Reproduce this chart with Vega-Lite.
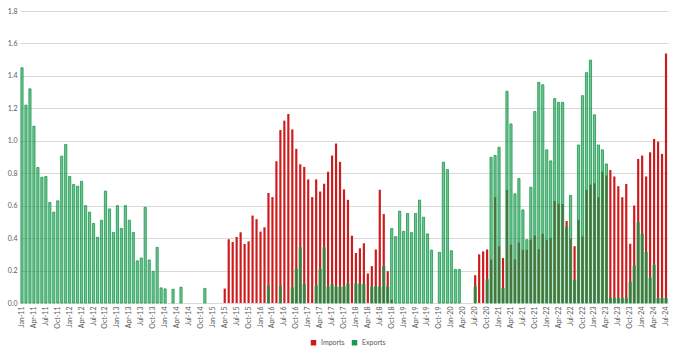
{
  "$schema": "https://vega.github.io/schema/vega-lite/v6.json",
  "autosize": "none",
  "width": 648,
  "height": 292,
  "padding": {"left": 20, "top": 11, "right": 9, "bottom": 54},
  "background": "white",
  "config": {
    "view": {"stroke": null},
    "font": "Lato",
    "axisY": {"labelFontSize": 7, "labelColor": "#595959", "labelPadding": 3, "labelOverlap": false, "labelFlush": false, "ticks": false, "domain": false, "grid": true, "gridColor": "#d9d9d9", "format": ".1f", "values": [0, 0.2, 0.4, 0.6, 0.8, 1.0, 1.2, 1.4, 1.6, 1.8]}
  },
  "data": {"values": [
    {"m":"2011-01-01","imp":null,"exp":1.45},{"m":"2011-02-01","imp":null,"exp":1.22},{"m":"2011-03-01","imp":null,"exp":1.32},{"m":"2011-04-01","imp":null,"exp":1.09},{"m":"2011-05-01","imp":null,"exp":0.835},{"m":"2011-06-01","imp":null,"exp":0.775},{"m":"2011-07-01","imp":null,"exp":0.78},{"m":"2011-08-01","imp":null,"exp":0.62},{"m":"2011-09-01","imp":null,"exp":0.56},{"m":"2011-10-01","imp":null,"exp":0.63},{"m":"2011-11-01","imp":null,"exp":0.905},{"m":"2011-12-01","imp":null,"exp":0.977},
    {"m":"2012-01-01","imp":null,"exp":0.78},{"m":"2012-02-01","imp":null,"exp":0.73},{"m":"2012-03-01","imp":null,"exp":0.72},{"m":"2012-04-01","imp":null,"exp":0.75},{"m":"2012-05-01","imp":null,"exp":0.6},{"m":"2012-06-01","imp":null,"exp":0.56},{"m":"2012-07-01","imp":null,"exp":0.49},{"m":"2012-08-01","imp":null,"exp":0.405},{"m":"2012-09-01","imp":null,"exp":0.51},{"m":"2012-10-01","imp":null,"exp":0.69},{"m":"2012-11-01","imp":null,"exp":0.58},{"m":"2012-12-01","imp":null,"exp":0.435},
    {"m":"2013-01-01","imp":null,"exp":0.6},{"m":"2013-02-01","imp":null,"exp":0.46},{"m":"2013-03-01","imp":null,"exp":0.6},{"m":"2013-04-01","imp":null,"exp":0.51},{"m":"2013-05-01","imp":null,"exp":0.435},{"m":"2013-06-01","imp":null,"exp":0.26},{"m":"2013-07-01","imp":null,"exp":0.277},{"m":"2013-08-01","imp":null,"exp":0.59},{"m":"2013-09-01","imp":null,"exp":0.265},{"m":"2013-10-01","imp":null,"exp":0.195},{"m":"2013-11-01","imp":null,"exp":0.343},{"m":"2013-12-01","imp":null,"exp":0.093},
    {"m":"2014-01-01","imp":null,"exp":0.087},{"m":"2014-02-01","imp":null,"exp":null},{"m":"2014-03-01","imp":null,"exp":0.085},{"m":"2014-04-01","imp":null,"exp":null},{"m":"2014-05-01","imp":null,"exp":0.097},{"m":"2014-06-01","imp":null,"exp":null},{"m":"2014-07-01","imp":null,"exp":null},{"m":"2014-08-01","imp":null,"exp":null},{"m":"2014-09-01","imp":null,"exp":null},{"m":"2014-10-01","imp":null,"exp":null},{"m":"2014-11-01","imp":null,"exp":0.09},{"m":"2014-12-01","imp":null,"exp":null},
    {"m":"2015-01-01","imp":null,"exp":null},{"m":"2015-02-01","imp":null,"exp":null},{"m":"2015-03-01","imp":null,"exp":null},{"m":"2015-04-01","imp":0.089,"exp":null},{"m":"2015-05-01","imp":0.393,"exp":null},{"m":"2015-06-01","imp":0.376,"exp":null},{"m":"2015-07-01","imp":0.407,"exp":null},{"m":"2015-08-01","imp":0.436,"exp":null},{"m":"2015-09-01","imp":0.364,"exp":null},{"m":"2015-10-01","imp":0.38,"exp":null},{"m":"2015-11-01","imp":0.539,"exp":null},{"m":"2015-12-01","imp":0.517,"exp":null},
    {"m":"2016-01-01","imp":0.44,"exp":null},{"m":"2016-02-01","imp":0.467,"exp":null},{"m":"2016-03-01","imp":0.678,"exp":0.107},{"m":"2016-04-01","imp":0.653,"exp":null},{"m":"2016-05-01","imp":0.874,"exp":null},{"m":"2016-06-01","imp":1.066,"exp":0.103},{"m":"2016-07-01","imp":1.124,"exp":null},{"m":"2016-08-01","imp":1.165,"exp":null},{"m":"2016-09-01","imp":1.07,"exp":0.095},{"m":"2016-10-01","imp":0.95,"exp":0.21},{"m":"2016-11-01","imp":0.855,"exp":0.343},{"m":"2016-12-01","imp":0.839,"exp":0.116},
    {"m":"2017-01-01","imp":0.762,"exp":null},{"m":"2017-02-01","imp":0.653,"exp":null},{"m":"2017-03-01","imp":0.762,"exp":0.107},{"m":"2017-04-01","imp":0.687,"exp":0.21},{"m":"2017-05-01","imp":0.735,"exp":0.343},{"m":"2017-06-01","imp":0.809,"exp":0.1},{"m":"2017-07-01","imp":0.909,"exp":0.116},{"m":"2017-08-01","imp":0.983,"exp":0.1},{"m":"2017-09-01","imp":0.87,"exp":0.099},{"m":"2017-10-01","imp":0.7,"exp":0.103},{"m":"2017-11-01","imp":0.636,"exp":0.12},{"m":"2017-12-01","imp":0.415,"exp":null},
    {"m":"2018-01-01","imp":0.308,"exp":0.12},{"m":"2018-02-01","imp":0.337,"exp":0.12},{"m":"2018-03-01","imp":0.368,"exp":0.116},{"m":"2018-04-01","imp":0.182,"exp":null},{"m":"2018-05-01","imp":0.227,"exp":0.1},{"m":"2018-06-01","imp":0.33,"exp":0.1},{"m":"2018-07-01","imp":0.698,"exp":0.1},{"m":"2018-08-01","imp":0.548,"exp":0.227},{"m":"2018-09-01","imp":0.196,"exp":0.1},{"m":"2018-10-01","imp":0.02,"exp":0.459},{"m":"2018-11-01","imp":null,"exp":0.409},{"m":"2018-12-01","imp":null,"exp":0.566},
    {"m":"2019-01-01","imp":null,"exp":0.442},{"m":"2019-02-01","imp":null,"exp":0.552},{"m":"2019-03-01","imp":null,"exp":0.434},{"m":"2019-04-01","imp":null,"exp":0.552},{"m":"2019-05-01","imp":null,"exp":0.634},{"m":"2019-06-01","imp":null,"exp":0.529},{"m":"2019-07-01","imp":null,"exp":0.426},{"m":"2019-08-01","imp":null,"exp":0.326},{"m":"2019-09-01","imp":null,"exp":null},{"m":"2019-10-01","imp":null,"exp":0.312},{"m":"2019-11-01","imp":null,"exp":0.868},{"m":"2019-12-01","imp":null,"exp":0.822},
    {"m":"2020-01-01","imp":null,"exp":0.322},{"m":"2020-02-01","imp":null,"exp":0.207},{"m":"2020-03-01","imp":null,"exp":0.207},{"m":"2020-04-01","imp":null,"exp":null},{"m":"2020-05-01","imp":null,"exp":null},{"m":"2020-06-01","imp":null,"exp":null},{"m":"2020-07-01","imp":0.171,"exp":0.1},{"m":"2020-08-01","imp":0.3,"exp":null},{"m":"2020-09-01","imp":0.318,"exp":null},{"m":"2020-10-01","imp":0.33,"exp":0.145},{"m":"2020-11-01","imp":0.267,"exp":0.898},{"m":"2020-12-01","imp":0.652,"exp":0.909},
    {"m":"2021-01-01","imp":0.35,"exp":0.96},{"m":"2021-02-01","imp":0.277,"exp":0.092},{"m":"2021-03-01","imp":0.697,"exp":1.305},{"m":"2021-04-01","imp":0.36,"exp":1.104},{"m":"2021-05-01","imp":0.269,"exp":0.673},{"m":"2021-06-01","imp":0.373,"exp":0.767},{"m":"2021-07-01","imp":0.328,"exp":0.574},{"m":"2021-08-01","imp":0.328,"exp":0.39},{"m":"2021-09-01","imp":0.39,"exp":0.714},{"m":"2021-10-01","imp":0.416,"exp":1.18},{"m":"2021-11-01","imp":0.332,"exp":1.36},{"m":"2021-12-01","imp":0.427,"exp":1.345},
    {"m":"2022-01-01","imp":0.39,"exp":0.944},{"m":"2022-02-01","imp":0.4,"exp":0.876},{"m":"2022-03-01","imp":0.628,"exp":1.26},{"m":"2022-04-01","imp":0.611,"exp":1.237},{"m":"2022-05-01","imp":0.611,"exp":1.237},{"m":"2022-06-01","imp":0.505,"exp":0.468},{"m":"2022-07-01","imp":0.396,"exp":0.663},{"m":"2022-08-01","imp":0.35,"exp":0.14},{"m":"2022-09-01","imp":0.513,"exp":0.974},{"m":"2022-10-01","imp":0.41,"exp":1.278},{"m":"2022-11-01","imp":0.697,"exp":1.42},{"m":"2022-12-01","imp":0.73,"exp":1.497},
    {"m":"2023-01-01","imp":0.738,"exp":1.16},{"m":"2023-02-01","imp":0.652,"exp":0.974},{"m":"2023-03-01","imp":0.81,"exp":0.944},{"m":"2023-04-01","imp":0.786,"exp":0.857},{"m":"2023-05-01","imp":0.82,"exp":0.03},{"m":"2023-06-01","imp":0.78,"exp":0.03},{"m":"2023-07-01","imp":0.72,"exp":0.03},{"m":"2023-08-01","imp":0.652,"exp":0.03},{"m":"2023-09-01","imp":0.734,"exp":0.03},{"m":"2023-10-01","imp":0.365,"exp":0.13},{"m":"2023-11-01","imp":0.601,"exp":0.23},{"m":"2023-12-01","imp":0.888,"exp":0.498},
    {"m":"2024-01-01","imp":0.909,"exp":0.427},{"m":"2024-02-01","imp":0.78,"exp":0.314},{"m":"2024-03-01","imp":0.929,"exp":0.156},{"m":"2024-04-01","imp":1.011,"exp":0.236},{"m":"2024-05-01","imp":0.995,"exp":0.03},{"m":"2024-06-01","imp":0.919,"exp":0.03},{"m":"2024-07-01","imp":1.538,"exp":0.03}
  ]},
  "encoding": {
    "x": {
      "field": "m", "type": "ordinal", "timeUnit": "utcyearmonth", "title": null,
      "scale": {"paddingInner": 0.45, "paddingOuter": 0.225},
      "axis": {
        "labelAngle": -90, "labelFontSize": 7, "labelColor": "#595959", "labelPadding": 3,
        "ticks": false, "domain": true, "domainColor": "#d9d9d9", "labelOverlap": false,
        "labelExpr": "utcmonth(datum.value) % 3 == 0 ? utcFormat(datum.value, '%b-%y') : ''"
      }
    }
  },
  "layer": [
    {
      "mark": {"type": "tick", "opacity": 0},
      "encoding": {}
    },
    {
      "mark": {"type": "bar", "fill": "#cf1b1b"},
      "encoding": {
        "y": {
          "field": "imp", "type": "quantitative", "title": null,
          "scale": {"domain": [0, 1.8], "nice": false}
        },
        "color": {
          "datum": "Imports",
          "scale": {"domain": ["Imports", "Exports"], "range": ["#cf1b1b", "#18994c"]},
          "legend": {
            "title": null, "orient": "none", "legendX": 290, "legendY": 328,
            "direction": "horizontal", "symbolType": "square", "symbolSize": 30,
            "labelFontSize": 7, "labelColor": "#595959", "columnPadding": 6, "symbolStrokeWidth": 0
          }
        }
      }
    },
    {
      "mark": {"type": "bar", "fillOpacity": 0.6, "stroke": "#18994c", "strokeWidth": 0.8},
      "encoding": {
        "y": {"field": "exp", "type": "quantitative", "title": null},
        "color": {"datum": "Exports"}
      }
    }
  ]
}
